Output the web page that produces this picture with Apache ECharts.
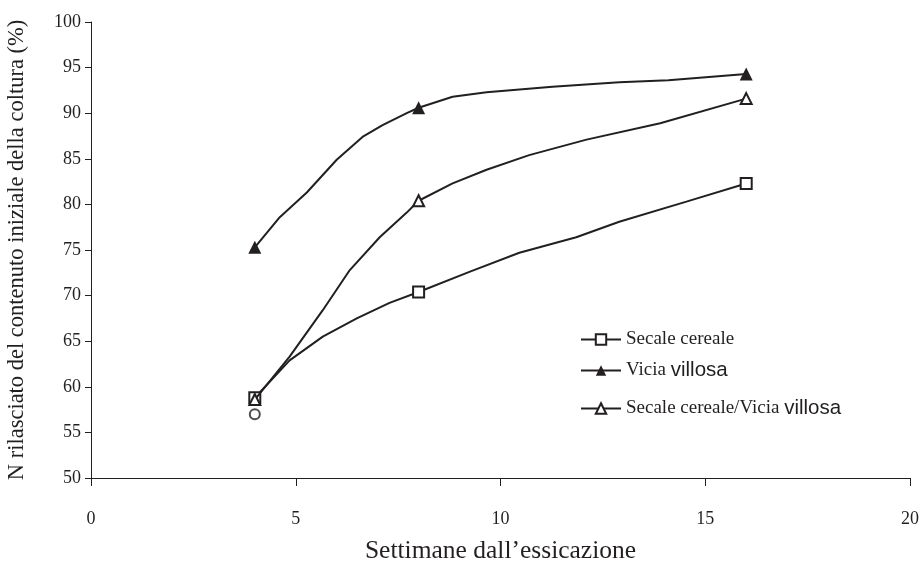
<!DOCTYPE html>
<html>
<head>
<meta charset="utf-8">
<script src="https://cdn.jsdelivr.net/npm/echarts@6/dist/echarts.min.js"></script>
<style>html,body{margin:0;padding:0;background:#fff;overflow:hidden}#c{width:920px;height:561px}</style>
</head>
<body>
<div id="c"></div>
<script>
// Weeks at which the measured points (markers) are placed
const keyWeeks = [4, 8, 16];
// Curve points: [week, %]
const secaleCurve = [[4,58.8],[4.85,62.9],[5.66,65.5],[6.49,67.5],[7.29,69.2],[8,70.4],[9.24,72.6],[10.46,74.7],[11.85,76.4],[12.9,78.1],[14.54,80.3],[16,82.3]];
const viciaCurve = [[4,75.3],[4.61,78.6],[5.27,81.3],[6.0,84.9],[6.63,87.4],[7.12,88.7],[7.71,90.0],[8,90.6],[8.83,91.8],[9.66,92.3],[11.27,92.9],[12.9,93.4],[14.1,93.6],[16,94.3]];
const mixCurve = [[4,58.6],[4.85,63.3],[5.66,68.4],[6.32,72.8],[7.05,76.4],[7.71,79.1],[8,80.4],[8.83,82.3],[9.66,83.8],[10.7,85.4],[12.1,87.1],[13.9,88.9],[16,91.6]];
const extraPoint = [[4,57.0]];
const seriesNames = ['Secale cereale', 'Vicia villosa', 'Secale cereale/Vicia villosa'];
const yTicks = {min:50, max:100, interval:5};
const xTicks = {min:0, max:20, interval:5};

const ink = '#231f20';
const serif = 'Liberation Serif';

function build(curve) {
  return curve.map(p => keyWeeks.includes(p[0]) ? {value:p} : {value:p, symbol:'none'});
}

function lineSeries(name, curve, symbol, fill, size, z) {
  return {
    name: name, type: 'line', data: build(curve),
    symbol: symbol, symbolSize: size, showSymbol: true,
    lineStyle: {color: ink, width: 2},
    itemStyle: {color: fill, borderColor: ink, borderWidth: fill === ink ? 0 : 2},
    emphasis: {disabled: true}, animation: false, z: z
  };
}

function legendAt(name, top) {
  return {
    data: [name], left: 575, top: top, itemWidth: 40, itemHeight: 13, itemGap: 0,
    textStyle: {fontFamily: serif, fontSize: 19, color: ink,
      rich: {
        t: {fontFamily: serif, fontSize: 19, color: ink},
        s: {fontFamily: 'Liberation Sans', fontSize: 20.5, color: ink}
      }},
    formatter: n => n.split(/(villosa)/).filter(x => x).map(x => x === 'villosa' ? '{s|villosa}' : '{t|' + x + '}').join(''),
    selectedMode: false
  };
}

const chart = echarts.init(document.getElementById('c'), null, {renderer: 'canvas'});
chart.setOption({
  backgroundColor: '#fff',
  animation: false,
  grid: {left: 91, right: 10, top: 22, bottom: 83, outerBoundsMode: 'none', containLabel: false},
  legend: [legendAt(seriesNames[0], 325), legendAt(seriesNames[1], 355), legendAt(seriesNames[2], 393)],
  xAxis: {
    type: 'value', min: xTicks.min, max: xTicks.max, interval: xTicks.interval,
    name: 'Settimane dall’essicazione', nameLocation: 'middle', nameGap: 60,
    nameTextStyle: {fontFamily: serif, fontSize: 25.5, color: ink},
    axisLine: {lineStyle: {color: ink, width: 1}},
    axisTick: {show: true, length: 8, lineStyle: {color: ink}},
    axisLabel: {margin: 32, fontFamily: serif, fontSize: 18, color: ink},
    splitLine: {show: false}
  },
  yAxis: {
    type: 'value', min: yTicks.min, max: yTicks.max, interval: yTicks.interval,
    name: 'N rilasciato del contenuto iniziale della coltura (%)', nameLocation: 'middle', nameGap: 62,
    nameTextStyle: {fontFamily: serif, fontSize: 22.5, color: ink},
    axisLine: {show: true, lineStyle: {color: ink, width: 1}},
    axisTick: {show: true, length: 6, lineStyle: {color: ink}},
    axisLabel: {margin: 10, fontFamily: serif, fontSize: 18, color: ink},
    splitLine: {show: false}
  },
  series: [
    lineSeries(seriesNames[0], secaleCurve, 'rect', '#fff', 11, 3),
    lineSeries(seriesNames[1], viciaCurve, 'triangle', ink, 13, 3),
    lineSeries(seriesNames[2], mixCurve, 'triangle', '#fff', 11, 4),
    {name: 'extra', type: 'scatter', data: extraPoint, symbol: 'circle', symbolSize: 10,
     itemStyle: {color: '#fff', borderColor: ink, borderWidth: 2}, emphasis: {disabled: true}, z: 2}
  ]
});
</script>
</body>
</html>
